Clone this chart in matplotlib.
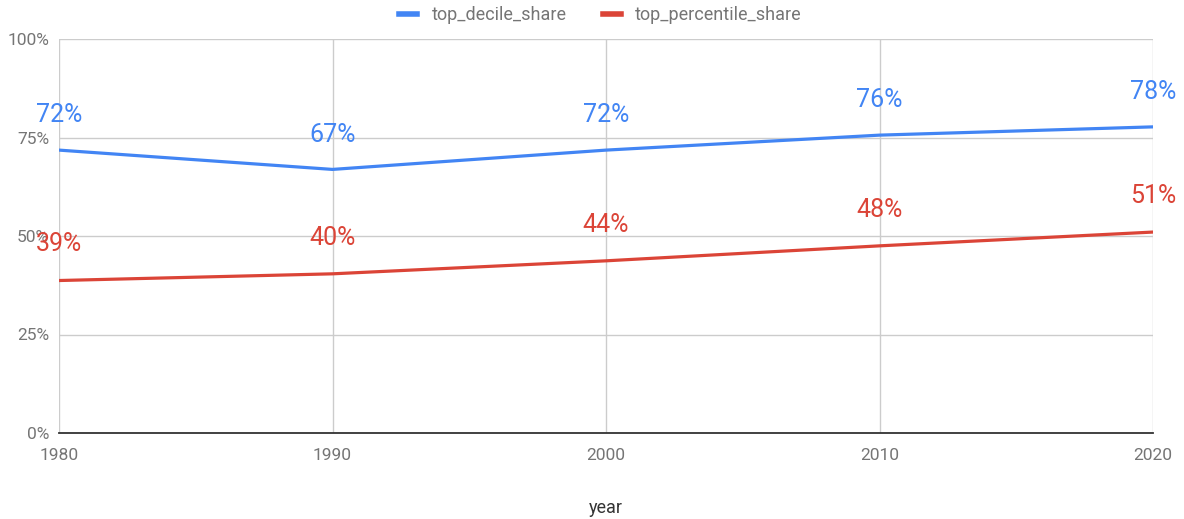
import matplotlib.pyplot as plt
from matplotlib.ticker import FuncFormatter

plt.rcParams['font.family'] = ['Roboto', 'DejaVu Sans']

years = [1980, 1990, 2000, 2010, 2020]
top_decile_share = [71.8, 66.9, 71.8, 75.6, 77.7]
top_percentile_share = [38.7, 40.4, 43.7, 47.5, 51.0]
decile_labels = ["72%", "67%", "72%", "76%", "78%"]
percentile_labels = ["39%", "40%", "44%", "48%", "51%"]

blue = "#4285F4"
red = "#DB4437"
grey_txt = "#757575"

fig = plt.figure(figsize=(11.84, 5.19), dpi=100)
ax = fig.add_axes([59/1184, 86/519, (1153-59)/1184, (433-39)/519])

ax.plot(years, top_decile_share, color=blue, lw=2.3, label="top_decile_share", zorder=3)
ax.plot(years, top_percentile_share, color=red, lw=2.3, label="top_percentile_share", zorder=3)

for x, y, t in zip(years, top_decile_share, decile_labels):
    ax.annotate(t, (x, y), xytext=(0, 20), textcoords="offset points",
                ha="center", va="baseline", color=blue, fontsize=18, zorder=4)
for x, y, t in zip(years, top_percentile_share, percentile_labels):
    ax.annotate(t, (x, y), xytext=(0, 21), textcoords="offset points",
                ha="center", va="baseline", color=red, fontsize=18, zorder=4)

ax.set_xlim(1980, 2020)
ax.set_ylim(0, 100)
ax.set_xticks(years)
ax.set_yticks([0, 25, 50, 75, 100])
ax.yaxis.set_major_formatter(FuncFormatter(lambda v, p: "%d%%" % v))
ax.grid(True, color="#cccccc", lw=1)
ax.set_axisbelow(True)
for s in ["top", "right", "left"]:
    ax.spines[s].set_visible(False)
ax.spines["bottom"].set_color("#333333")
ax.spines["bottom"].set_linewidth(1.3)
ax.spines["bottom"].set_zorder(5)
ax.tick_params(length=0, labelsize=12.5, colors=grey_txt, pad=7)
ax.tick_params(axis="x", pad=11)
ax.set_xlabel("year", fontsize=13, color="#333333", labelpad=26)

ax.legend(loc="center", bbox_to_anchor=(0.495, 1.0 + 24/394), ncol=2, frameon=False,
          fontsize=13, labelcolor=grey_txt, handlelength=1.0, handletextpad=0.8,
          columnspacing=2.0)
for h in ax.get_legend().get_lines():
    h.set_linewidth(4)

fig.savefig("out.png", dpi=100)
